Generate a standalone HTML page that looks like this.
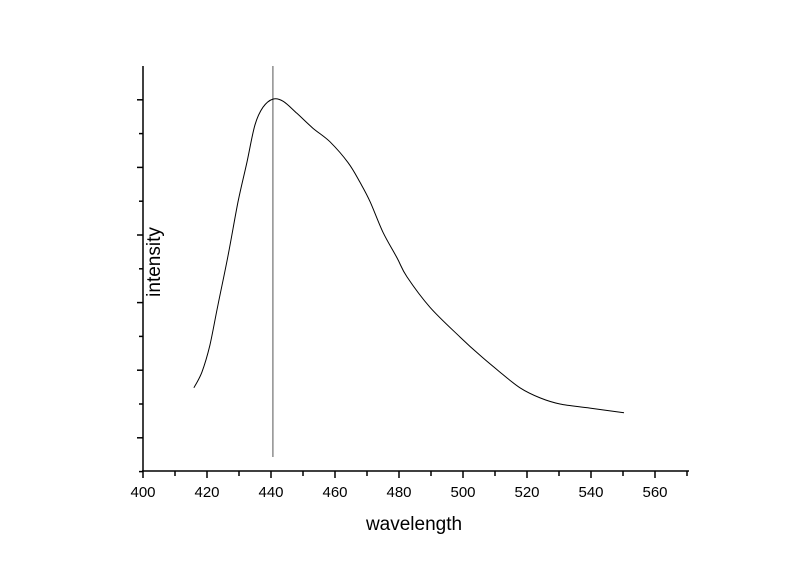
<!DOCTYPE html>
<html><head><meta charset="utf-8"><style>
body{margin:0;background:#fff;}
svg{display:block;font-family:"Liberation Sans",Arial,sans-serif;}
</style></head><body>
<svg id="chart" width="800" height="565"></svg>
<script>
const wavelengths=[415.9,418.4,420.9,423.4,426.6,429.7,432.5,435.0,437.5,440.6,443.75,448.1,453.1,458.4,464.1,467.8,471.0,475.0,479.4,482.5,489.7,499.1,505.3,511.6,517.8,524.1,530.3,539.7,550.3];
const intensities=[1.74,1.97,2.37,2.96,3.70,4.49,5.08,5.63,5.89,6.01,5.98,5.80,5.58,5.38,5.07,4.78,4.49,4.04,3.66,3.38,2.93,2.49,2.22,1.97,1.74,1.59,1.50,1.44,1.37];
const xTickLabels=[400,420,440,460,480,500,520,540,560];
const yMajorTicks=[1,2,3,4,5,6];
const peakLine=[440.6];
const NS='http://www.w3.org/2000/svg';
const svg=document.getElementById('chart');
const X0=143,PX=3.2;
const xs=w=>X0+(w-400)*PX;
const ys=v=>66+(6.5-v)*67.6;
function mk(t,a){const e=document.createElementNS(NS,t);for(const k in a)e.setAttribute(k,a[k]);svg.appendChild(e);return e;}
let e=mk('line',{x1:143,y1:66,x2:143,y2:471,stroke:'#000','stroke-width':1.5});


e=mk('line',{x1:142,y1:471,x2:689,y2:471,stroke:'#000','stroke-width':1.5});


yMajorTicks.forEach(v=>{
 const t=mk('line',{x1:137,y1:ys(v),x2:143,y2:ys(v),stroke:'#000','stroke-width':1.5});
 
 
 const m=mk('line',{x1:139,y1:ys(v-0.5),x2:143,y2:ys(v-0.5),stroke:'#000','stroke-width':1.5});
 
 
});
xTickLabels.forEach((w,i)=>{
 const t=mk('line',{x1:xs(w),y1:471,x2:xs(w),y2:478,stroke:'#000','stroke-width':1.5});
 
 
 const m=mk('line',{x1:xs(w+10),y1:471,x2:xs(w+10),y2:476,stroke:'#000','stroke-width':1.5});
 
 
 const l=mk('text',{x:xs(w),y:497,'font-size':15,'text-anchor':'middle',fill:'#000'});
 l.textContent=w;
 
 
});
peakLine.forEach(w=>{
 const p=mk('line',{x1:xs(w),y1:66,x2:xs(w),y2:457,stroke:'#555','stroke-width':1});
 
 
});
// smooth curve (Catmull-Rom)
const P=wavelengths.map((w,i)=>[xs(w),ys(intensities[i])]);
let d='M'+P[0][0].toFixed(1)+','+P[0][1].toFixed(1);
for(let i=0;i<P.length-1;i++){
 const p0=P[Math.max(0,i-1)],p1=P[i],p2=P[i+1],p3=P[Math.min(P.length-1,i+2)];
 const c1=[p1[0]+(p2[0]-p0[0])/6,p1[1]+(p2[1]-p0[1])/6];
 const c2=[p2[0]-(p3[0]-p1[0])/6,p2[1]-(p3[1]-p1[1])/6];
 d+='C'+c1[0].toFixed(1)+','+c1[1].toFixed(1)+' '+c2[0].toFixed(1)+','+c2[1].toFixed(1)+' '+p2[0].toFixed(1)+','+p2[1].toFixed(1);
}
const c=mk('path',{d:d,fill:'none',stroke:'#000','stroke-width':1,'stroke-linejoin':'round'});


const xt=mk('text',{x:414,y:530,'font-size':19,'text-anchor':'middle',fill:'#000'});
xt.textContent='wavelength';


const yt=mk('text',{x:0,y:0,'font-size':19,'text-anchor':'middle',fill:'#000',transform:'translate(160,262) rotate(-90)'});
yt.textContent='intensity';


</script>
</body></html>
